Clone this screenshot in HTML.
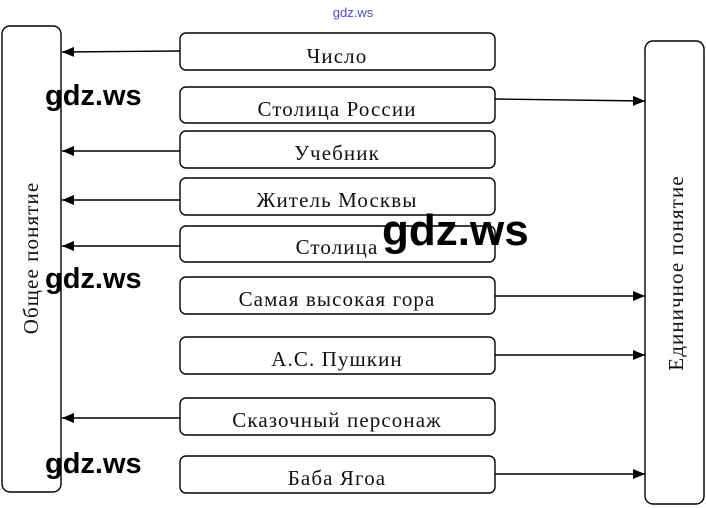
<!DOCTYPE html>
<html><head><meta charset="utf-8"><style>
html,body{margin:0;padding:0;background:#fff;}
svg{display:block;}
.t{font-family:"Liberation Serif","DejaVu Serif",serif;font-size:21px;letter-spacing:1.1px;fill:#111;text-anchor:middle;}
.w{font-family:"Liberation Sans","DejaVu Sans",sans-serif;font-weight:bold;fill:#000;}
</style></head><body>
<svg width="706" height="508" viewBox="0 0 706 508" xmlns="http://www.w3.org/2000/svg">
<defs>
<marker id="a" markerWidth="12" markerHeight="10" refX="12" refY="5" orient="auto" markerUnits="userSpaceOnUse">
<path d="M0,0 L12,5 L0,10 Z" fill="#000"/></marker>
</defs>
<text x="353" y="17" font-family="Liberation Sans, sans-serif" font-size="13" fill="#4a4adc" text-anchor="middle">gdz.ws</text>
<g fill="none" stroke="#000" stroke-width="1.4">
<rect x="2" y="26" width="59" height="466" rx="8"/>
<rect x="645" y="41" width="59" height="463" rx="8"/>
<rect x="180" y="33" width="315" height="37" rx="6"/>
<rect x="180" y="87" width="315" height="36" rx="6"/>
<rect x="180" y="131" width="315" height="37" rx="6"/>
<rect x="180" y="178" width="315" height="37" rx="6"/>
<rect x="180" y="226" width="315" height="36" rx="6"/>
<rect x="180" y="277" width="315" height="37" rx="6"/>
<rect x="180" y="337" width="315" height="37" rx="6"/>
<rect x="180" y="398" width="315" height="37" rx="6"/>
<rect x="180" y="456" width="315" height="37" rx="6"/>
<line x1="180" y1="51" x2="62" y2="52" marker-end="url(#a)"/>
<line x1="180" y1="151" x2="62" y2="151" marker-end="url(#a)"/>
<line x1="180" y1="200" x2="62" y2="200" marker-end="url(#a)"/>
<line x1="180" y1="246" x2="62" y2="246" marker-end="url(#a)"/>
<line x1="180" y1="418" x2="62" y2="418" marker-end="url(#a)"/>
<line x1="495" y1="99" x2="645" y2="101" marker-end="url(#a)"/>
<line x1="495" y1="296" x2="645" y2="296" marker-end="url(#a)"/>
<line x1="495" y1="355" x2="645" y2="355" marker-end="url(#a)"/>
<line x1="495" y1="474" x2="645" y2="474" marker-end="url(#a)"/>
</g>
<text class="t" x="337" y="63">Число</text>
<text class="t" x="337" y="116">Столица России</text>
<text class="t" x="337" y="160">Учебник</text>
<text class="t" x="337" y="207">Житель Москвы</text>
<text class="t" x="337" y="254">Столица</text>
<text class="t" x="337" y="306">Самая высокая гора</text>
<text class="t" x="337" y="366">А.С. Пушкин</text>
<text class="t" x="337" y="427">Сказочный персонаж</text>
<text class="t" x="337" y="485">Баба Ягоа</text>
<text class="t" transform="translate(38,258) rotate(-90)">Общее понятие</text>
<text class="t" transform="translate(683,273) rotate(-90)">Единичное понятие</text>
<text class="w" x="45" y="105" font-size="29">gdz.ws</text>
<text class="w" x="45" y="288" font-size="29">gdz.ws</text>
<text class="w" x="45" y="473" font-size="29">gdz.ws</text>
<text class="w" x="382" y="245" font-size="44">gdz.ws</text>
</svg>
</body></html>
